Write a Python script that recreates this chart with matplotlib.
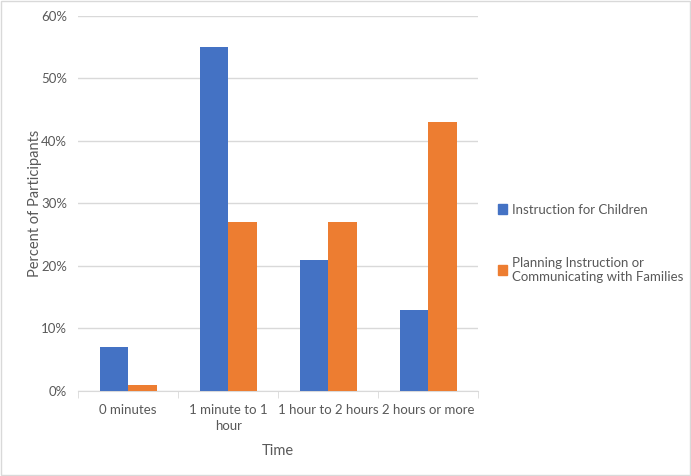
import numpy as np
import matplotlib.pyplot as plt
from matplotlib.patches import Patch, Rectangle

categories = ["0 minutes", "1 minute to 1\nhour", "1 hour to 2 hours", "2 hours or more"]
instruction = [7, 55, 21, 13]
planning = [1, 27, 27, 43]
series_names = ["Instruction for Children",
                "Planning Instruction or\nCommunicating with Families"]

blue = "#4472C4"
orange = "#ED7D31"
text_col = "#595959"
grid_col = "#D9D9D9"

plt.rcParams["font.family"] = ["Lato", "DejaVu Sans"]


def main():
    fig = plt.figure(figsize=(6.91, 4.76), dpi=100)
    ax = fig.add_axes([0.113, 0.1786, 0.579, 0.788])

    x = np.arange(len(categories))
    w = 0.285
    ax.bar(x - w / 2, instruction, w, color=blue, zorder=3)
    ax.bar(x + w / 2, planning, w, color=orange, zorder=3)

    ax.set_xlim(-0.5, len(categories) - 0.5)
    ax.set_ylim(0, 60)
    ax.set_yticks(range(0, 61, 10))
    ax.set_yticklabels([f"{v}%" for v in range(0, 61, 10)])
    ax.yaxis.grid(True, color=grid_col, linewidth=1, zorder=0)
    ax.tick_params(axis="y", length=0, pad=8, labelsize=9.5, labelcolor=text_col)

    ax.set_xticks(x)
    ax.set_xticklabels(categories, linespacing=1.35)
    ax.tick_params(axis="x", length=0, pad=9.5, labelsize=9.5, labelcolor=text_col)
    ax.set_xticks(np.arange(-0.5, len(categories)), minor=True)
    ax.tick_params(axis="x", which="minor", length=5, color=grid_col)

    for s in ["top", "right", "left"]:
        ax.spines[s].set_visible(False)
    ax.spines["bottom"].set_color(grid_col)

    ax.set_xlabel("Time", fontsize=10.5, color=text_col, labelpad=9)
    ax.set_ylabel("Percent of Participants", fontsize=10.5, color=text_col, labelpad=-1)

    handles = [Patch(color=blue), Patch(color=orange)]
    fig.legend(handles, series_names, loc="upper left", bbox_to_anchor=(0.703, 0.597),
               frameon=False, fontsize=9.5, labelcolor=text_col, handlelength=0.7,
               handleheight=0.7, handletextpad=0.4, labelspacing=3.1)

    fig.add_artist(Rectangle((0.001, 0.002), 0.997, 0.996, transform=fig.transFigure,
                             fill=False, edgecolor="#D9D9D9", linewidth=1))

    fig.savefig("out.png", dpi=100)


if __name__ == "__main__":
    main()
